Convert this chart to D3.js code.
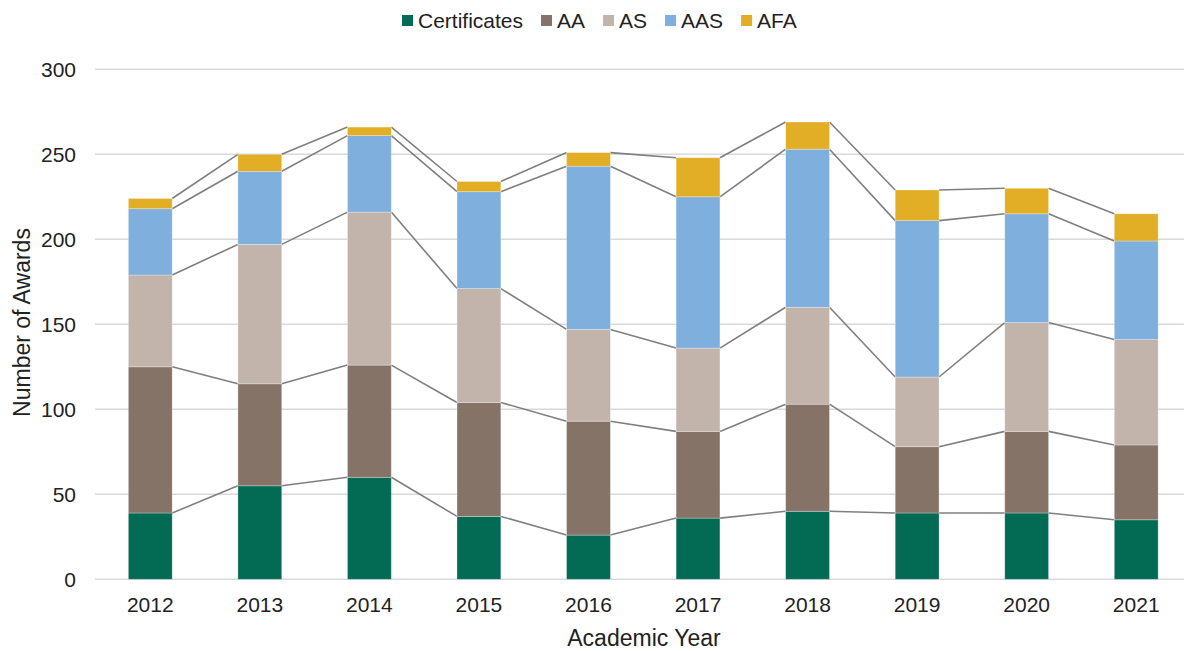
<!DOCTYPE html>
<html lang="en">
<meta charset="utf-8">
<title>Number of Awards by Academic Year</title>
<style>
  body { margin: 0; background: #fff; font-family: "Liberation Sans", Arial, sans-serif; }
  .tick text { fill: #222; font-size: 21px; }
  .label { fill: #222; font-size: 21px; }
  .title { fill: #222; font-size: 23px; }
</style>
<body>
<script src="https://d3js.org/d3.v7.min.js"></script>
<svg class="chart"></svg>
<script>
// data
var years = ["2012","2013","2014","2015","2016","2017","2018","2019","2020","2021"];
var seriesNames = ["Certificates","AA","AS","AAS","AFA"];
var certificates = [39, 55, 60, 37, 26, 36, 40, 39, 39, 35];
var aa           = [86, 60, 66, 67, 67, 51, 63, 39, 48, 44];
var as           = [54, 82, 90, 67, 54, 49, 57, 41, 64, 62];
var aas          = [39, 43, 45, 57, 96, 89, 93, 92, 64, 58];
var afa          = [ 6, 10,  5,  6,  8, 23, 16, 18, 15, 16];
var yTicks = [0, 50, 100, 150, 200, 250, 300];
var colors = ["#036a54", "#867368", "#c2b4aa", "#7eafdd", "#e1ae26"];

var width = 1185, height = 651;
var svg = d3.select(".chart").attr("width", width).attr("height", height);

var rows = years.map(function(y, i) {
  return {year: y, Certificates: certificates[i], AA: aa[i], AS: as[i], AAS: aas[i], AFA: afa[i]};
});
var stacked = d3.stack().keys(seriesNames)(rows);

var x = d3.scaleBand().domain(years).range([95.5, 1191]).paddingInner(0.6).paddingOuter(0.3);
var y = d3.scaleLinear().domain([0, 300]).range([579.3, 69.3]);

// gridlines
svg.append("g").selectAll("line")
  .data(yTicks)
  .enter().append("line")
    .attr("x1", 95).attr("x2", 1184)
    .attr("y1", function(d) { return y(d); })
    .attr("y2", function(d) { return y(d); })
    .attr("stroke", "#d9d9d9")
    .attr("stroke-width", 1.5);

// y axis labels
var yAxis = d3.axisLeft(y).tickValues(yTicks).tickSize(0).tickPadding(0);
svg.append("g")
  .attr("transform", "translate(76,0)")
  .call(yAxis)
  .call(function(g) { g.select(".domain").remove(); })
  .selectAll("text").attr("dy", "0.35em");

// x axis labels
var xAxis = d3.axisBottom(x).tickSize(0).tickPadding(0);
svg.append("g")
  .attr("transform", "translate(0,597)")
  .call(xAxis)
  .call(function(g) { g.select(".domain").remove(); })
  .selectAll("text").attr("dy", "0.72em");

// connector lines between bars
var conn = svg.append("g");
stacked.forEach(function(s) {
  for (var i = 0; i < years.length - 1; i++) {
    conn.append("line")
      .attr("x1", x(years[i]) + x.bandwidth())
      .attr("x2", x(years[i + 1]))
      .attr("y1", y(s[i][1]))
      .attr("y2", y(s[i + 1][1]))
      .attr("stroke", "#7f7f7f")
      .attr("stroke-width", 1.6);
  }
});

// bars
svg.append("g").selectAll("g")
  .data(stacked)
  .enter().append("g")
    .attr("fill", function(d, i) { return colors[i]; })
  .selectAll("rect")
  .data(function(d) { return d; })
  .enter().append("rect")
    .attr("x", function(d) { return x(d.data.year); })
    .attr("width", x.bandwidth())
    .attr("y", function(d) { return y(d[1]); })
    .attr("height", function(d) { return y(d[0]) - y(d[1]); })
    .attr("stroke", "#ffffff")
    .attr("stroke-opacity", 0.35)
    .attr("stroke-width", 0.8);

// axis titles
svg.append("text")
  .attr("class", "title")
  .attr("text-anchor", "middle")
  .attr("x", 644)
  .attr("y", 646)
  .text("Academic Year");

svg.append("text")
  .attr("class", "title")
  .attr("text-anchor", "middle")
  .attr("transform", "translate(30,322.5) rotate(-90)")
  .text("Number of Awards");

// legend
var legend = svg.append("g");
var lx = 402;
seriesNames.forEach(function(name, i) {
  legend.append("rect")
    .attr("x", lx).attr("y", 15)
    .attr("width", 11).attr("height", 11)
    .attr("fill", colors[i]);
  var t = legend.append("text")
    .attr("class", "label")
    .attr("x", lx + 16)
    .attr("y", 28)
    .text(name);
  lx += 16 + t.node().getComputedTextLength() + 18;
});
</script>
</body>
</html>
